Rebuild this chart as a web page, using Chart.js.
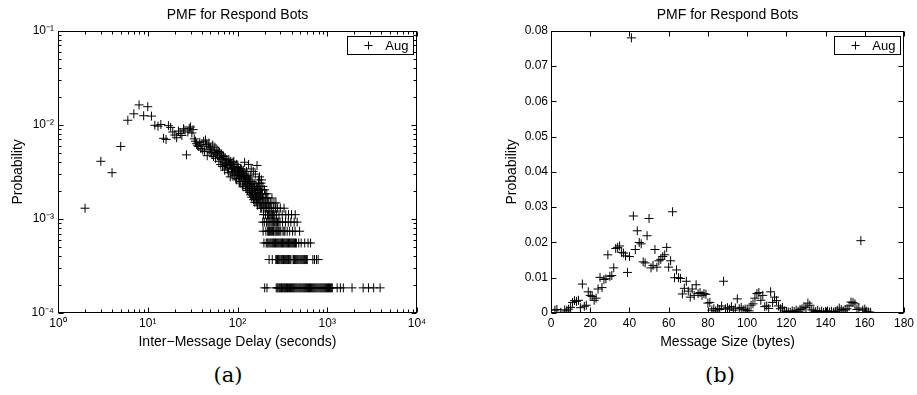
<!DOCTYPE html>
<html>
<head>
<meta charset="utf-8">
<script src="https://cdn.jsdelivr.net/npm/chart.js@4.4.1/dist/chart.umd.min.js"></script>
<style>
  body { margin: 0; background: #fff; width: 917px; height: 395px; overflow: hidden; position: relative; }
  canvas { position: absolute; top: 0; }
  .caption { position: absolute; top: 363px; font-family: "DejaVu Serif", "Liberation Serif", serif; font-size: 21px; transform: translateX(-50%); color: #000; }
</style>
</head>
<body>
<canvas id="delayChart" width="460" height="360" style="left:0"></canvas>
<canvas id="sizeChart" width="457" height="360" style="left:460px"></canvas>
<div class="caption" style="left:228px">(a)</div>
<div class="caption" style="left:720px">(b)</div>
<script>
// ---- (a) inter-message delay PMF, log/log ----
const delayLow = [
  2, 3, 4, 5, 6, 7, 8, 9, 10, 11,
  12, 13, 14, 15, 16, 17, 18, 19, 20, 21,
  22, 23, 24, 25, 26, 27, 28, 29, 30, 31,
  32, 33, 34, 35, 36, 37, 38, 39, 40, 41,
  42, 43, 44, 45, 46, 47, 48, 49, 50, 51,
  52, 53, 54, 55, 56, 57, 58, 59, 60, 61,
  62, 63, 64, 65, 66, 67, 68, 69, 70, 71,
  72, 73, 74, 75, 76, 77, 78, 79, 80, 81,
  82, 83, 84, 85, 86, 87, 88, 89, 90, 91,
  92, 93, 94, 95, 96, 97, 98, 99, 100, 101,
  102, 103, 104, 105, 106, 107, 108, 109, 110, 111,
  112, 113, 114, 115, 116, 117, 118, 119, 120, 121,
  122, 123, 124, 125, 126, 127, 128, 129, 130, 131,
  132, 133, 134, 135, 136, 137, 138, 139, 140, 141,
  142, 143, 144, 145, 146, 147, 148, 149, 150, 151,
  152, 153, 154, 155, 156, 157, 158, 159, 160, 161,
  162, 163, 164, 165, 166, 167, 168, 169
];
const probLow = [
  .0013, .0041, .0031, .0059, .0112, .0131, .0163, .0125, .0156, .0124,
  .0099, .0097, .0101, .0072, .0070, .0098, .0094, .0084, .0078, .0073,
  .0086, .0081, .0077, .0091, .0088, .0048, .0084, .0092, .0095, .0082,
  .0089, .0071, .0067, .0063, .0060, .0059, .0065, .0056, .0061, .0054,
  .0067, .0052, .0069, .0062, .0047, .0059, .0064, .0055, .0057, .0051,
  .0049, .0061, .0046, .0053, .0058, .0044, .0050, .0054, .0047, .0052,
  .0041, .0051, .0045, .0038, .0049, .0043, .0036, .0047, .0046, .0040,
  .0033, .0044, .0037, .0039, .0042, .0034, .0035, .0031, .0043, .0038,
  .0037, .0028, .0041, .0039, .0034, .0030, .0032, .0040, .0036, .0041,
  .0029, .0035, .0033, .0033, .0027, .0026, .0038, .0030, .0031, .0036,
  .0035, .0029, .0027, .0032, .0025, .0024, .0034, .0030, .0034, .0028,
  .0028, .0031, .0023, .0022, .0033, .0029, .0025, .0027, .0040, .0030,
  .0026, .0022, .0028, .0021, .0032, .0027, .0024, .0020, .0023, .0029,
  .0026, .0038, .0021, .0020, .0025, .0019, .0024, .0028, .0018, .0022,
  .0034, .0020, .0017, .0025, .0021, .0018, .0019, .0024, .0032, .0016,
  .0021, .0017, .0020, .0023, .0015, .0019, .0030, .0018, .0020, .0016,
  .0022, .0017, .0015, .0037, .0019, .0014, .0021, .0016
];
const delayHigh = [
  170, 171, 172, 173, 174, 175, 176, 177, 178, 179,
  180, 182, 183, 184, 185, 187, 188, 189, 190, 192,
  196, 198, 200, 204, 206, 208, 212, 214, 218, 223,
  232, 242, 255, 268
];
const probHigh = [
  .00204, .0026, .00167, .0024, .00148, .00185, .0028, .00222, .00148, .00185,
  .00204, .00167, .0024, .00185, .0026, .00204, .00167, .00148, .00185, .00222,
  .00167, .00148, .00204, .00185, .00148, .00167, .00185, .00148, .00167, .00148,
  .00148, .00167, .00148, .00148
];
// quantised rows in the tail (1..7 messages)
const bandProb = [1.85e-4, 3.7e-4, 5.55e-4, 7.4e-4, 9.25e-4, 1.11e-3, 1.3e-3];
const band1Delays = [201, 213,
  270, 277, 283, 290, 296, 303, 309, 316, 323, 330, 336, 344, 352, 361, 371, 380, 389, 399,
  409, 419, 429, 439, 450, 461, 473, 485, 497, 509, 522, 535, 548, 561, 575, 589, 604, 619,
  634, 650, 666, 682, 699, 716, 734, 752, 770, 790, 810, 830, 850, 871, 893, 915, 937, 960,
  984, 1008, 1033, 1059, 1085, 1112, 1139,
  1290, 1400, 1510, 1890, 2510, 2880, 3290, 3880];
const band2Delays = [225, 244,
  267, 273, 279, 285, 291, 298, 306, 312, 319, 326, 333, 341, 349, 356, 363, 370, 377, 386,
  394, 416, 423, 431, 441, 451, 461, 471, 483, 496, 508, 521, 534, 547, 560, 574, 586, 599,
  691, 721, 759, 791];
const band3Delays = [197, 209, 214, 219, 225, 231, 237, 243, 248, 253, 259, 265, 271, 277, 283,
  289, 296, 303, 310, 317, 324, 331, 338, 346, 354, 362, 370, 379, 387, 396, 405, 414, 423,
  433, 443, 453, 481, 512, 561, 611, 652];
const band4Delays = [193, 207, 217, 222, 227, 234, 240, 246, 252, 261, 268, 274, 281, 288, 296,
  304, 321, 330, 338, 358, 381, 411, 438, 492];
const band5Delays = [191, 199, 211, 218, 224, 230, 237, 244, 251, 257, 263, 271, 279, 288, 298,
  318, 342, 368, 393, 428, 462];
const band6Delays = [195, 205, 216, 221, 226, 235, 241, 246, 253, 260, 272, 290, 315, 345, 370, 400, 440];
const band7Delays = [181, 186, 194, 202, 210, 220, 229, 238, 250, 266, 280, 300, 330];

const delayTicks = [1, 10, 100, 1000, 10000];
const delayProbTicks = [1e-4, 1e-3, 1e-2, 1e-1];

// ---- (b) message size PMF, linear ----
const sizeBytes = [
  2, 3, 5, 7, 8, 9, 10, 11, 12, 13, 14, 15, 16, 17, 18, 19, 20, 21, 22, 23,
  24, 25, 26, 27, 28, 29, 30, 31, 32, 33, 34, 35, 36, 37, 38, 39, 40, 41, 42, 43,
  44, 45, 46, 47, 48, 49, 50, 51, 52, 53, 54, 55, 56, 57, 58, 59, 60, 61, 62, 63,
  64, 65, 66, 67, 68, 69, 70, 71, 72, 73, 74, 75, 76, 77, 78, 79, 80, 81, 82, 83,
  84, 85, 86, 87, 88, 89, 90, 91, 92, 93, 94, 95, 96, 97, 98, 99, 100, 101, 102, 103,
  104, 105, 106, 107, 108, 109, 110, 111, 112, 113, 114, 115, 116, 117, 118, 119, 120, 121, 122, 123,
  124, 125, 126, 127, 128, 129, 130, 131, 132, 133, 134, 135, 136, 137, 138, 139, 140, 141, 142, 143,
  144, 145, 146, 147, 148, 149, 150, 151, 152, 153, 154, 155, 156, 157, 158, 159, 160, 161, 162, 163
];
const sizeProb = [
  .0008, .0010, .0002, .0009, .0006, .0011, .0016, .0030, .0035, .0033, .0036, .0015, .0082, .0019, .0022, .0060, .0050, .0047, .0036, .0042,
  .0068, .0101, .0072, .0095, .0097, .0165, .0104, .0106, .0128, .0183, .0186, .0190, .0172, .0170, .0162, .0115, .0160, .0780, .0275, .0180,
  .0233, .0200, .0196, .0145, .0142, .0219, .0268, .0128, .0135, .0180, .0130, .0148, .0152, .0160, .0165, .0186, .0130, .0148, .0287, .0100,
  .0122, .0100, .0098, .0054, .0070, .0090, .0062, .0045, .0068, .0050, .0080, .0055, .0058, .0050, .0055, .0053, .0028, .0030, .0008, .0012,
  .0006, .0013, .0010, .0020, .0090, .0012, .0015, .0011, .0018, .0008, .0014, .0040, .0012, .0016, .0009, .0011, .0007, .0006, .0022, .0026,
  .0042, .0055, .0058, .0036, .0050, .0018, .0020, .0013, .0060, .0030, .0045, .0035, .0020, .0012, .0016, .0006, .0004, .0003, .0002, .0006,
  .0004, .0008, .0005, .0010, .0012, .0017, .0015, .0028, .0022, .0009, .0006, .0004, .0007, .0003, .0005, .0002, .0004, .0006, .0003, .0005,
  .0002, .0004, .0008, .0014, .0010, .0006, .0009, .0012, .0020, .0031, .0030, .0026, .0010, .0014, .0205, .0008, .0011, .0005, .0003, .0002
];
const sizeTicks = [0, 20, 40, 60, 80, 100, 120, 140, 160, 180];
const sizeProbTicks = [0, 0.01, 0.02, 0.03, 0.04, 0.05, 0.06, 0.07, 0.08];

const FONT = '"Liberation Sans", Arial, Helvetica, sans-serif';
Chart.defaults.font.family = FONT;
Chart.defaults.color = '#000';

const SUP = { '-': '\u207B', '0': '\u2070', '1': '\u00B9', '2': '\u00B2', '3': '\u00B3', '4': '\u2074' };
function powLabel(v) {
  const e = String(Math.round(Math.log10(v)));
  return '10' + e.split('').map(c => SUP[c]).join('');
}

// box around the axes with inward tick marks on all four sides (matlab look)
const boxTicks = {
  id: 'boxTicks',
  afterDatasetsDraw(chart) {
    const { ctx, chartArea: a } = chart;
    const { x, y } = chart.scales;
    const L = Math.round(a.left) + 0.5, R = Math.round(a.right) - 0.5;
    const T = Math.round(a.top) + 0.5, B = Math.round(a.bottom) - 0.5;
    ctx.save();
    ctx.strokeStyle = '#000';
    ctx.lineWidth = 1;
    ctx.beginPath();
    const mark = (s, len, v) => {
      const p = Math.round(s.getPixelForValue(v)) + 0.5;
      if (s.isHorizontal()) {
        ctx.moveTo(p, B); ctx.lineTo(p, B - len);
        ctx.moveTo(p, T); ctx.lineTo(p, T + len);
      } else {
        ctx.moveTo(L, p); ctx.lineTo(L + len, p);
        ctx.moveTo(R, p); ctx.lineTo(R - len, p);
      }
    };
    [x, y].forEach(s => {
      s.ticks.forEach(t => mark(s, 5, t.value));
      if (s.type === 'logarithmic') {
        const e0 = Math.round(Math.log10(s.min)), e1 = Math.round(Math.log10(s.max));
        for (let e = e0; e < e1; e++) {
          for (let m = 2; m < 10; m++) mark(s, 3, m * Math.pow(10, e));
        }
      }
    });
    ctx.stroke();
    ctx.strokeRect(L, T, R - L, B - T);
    ctx.restore();
  }
};

// legend box in the top right corner of the axes
const cornerLegend = {
  id: 'cornerLegend',
  afterDraw(chart) {
    const { ctx, chartArea: a } = chart;
    const w = 66, h = 18;
    const x0 = Math.round(a.right) - 4 - w + 0.5, y0 = Math.round(a.top) + 5 + 0.5;
    ctx.save();
    ctx.fillStyle = '#fff';
    ctx.fillRect(x0, y0, w, h);
    ctx.strokeStyle = '#000';
    ctx.lineWidth = 1;
    ctx.strokeRect(x0, y0, w, h);
    Chart.helpers.drawPoint(ctx, { pointStyle: 'cross', radius: 4, borderWidth: 1 }, x0 + 21, y0 + h / 2);
    ctx.fillStyle = '#000';
    ctx.font = '13px ' + FONT;
    ctx.textAlign = 'right';
    ctx.textBaseline = 'middle';
    ctx.fillText(chart.data.datasets[0].label, x0 + w - 5, y0 + h / 2 + 1);
    ctx.restore();
  }
};

function pointsOf(xs, ys) {
  return xs.map((v, i) => ({ x: v, y: ys[i] }));
}

function scatterDataset(points) {
  return {
    label: 'Aug',
    data: points,
    showLine: false,
    pointStyle: 'cross',
    pointRadius: 4.5,
    pointBorderWidth: 1,
    borderColor: '#000',
    backgroundColor: '#000'
  };
}

function baseOptions(xScale, yScale, padRight) {
  return {
    responsive: false,
    animation: false,
    devicePixelRatio: 1,
    events: [],
    layout: { padding: { left: 0, right: padRight, top: 0, bottom: 0 } },
    plugins: {
      legend: { display: false },
      tooltip: { enabled: false },
      title: {
        display: true,
        text: 'PMF for Respond Bots',
        color: '#000',
        fullSize: false,
        font: { size: 14, weight: 'normal' },
        padding: { top: 7, bottom: 7 }
      }
    },
    scales: { x: xScale, y: yScale }
  };
}

const axisCommon = {
  grid: { display: false, drawTicks: false },
  border: { display: false }
};

// chart (a)
const delayPoints = pointsOf(delayLow, probLow)
  .concat(pointsOf(delayHigh, probHigh))
  .concat(band1Delays.map(d => ({ x: d, y: bandProb[0] })))
  .concat(band2Delays.map(d => ({ x: d, y: bandProb[1] })))
  .concat(band3Delays.map(d => ({ x: d, y: bandProb[2] })))
  .concat(band4Delays.map(d => ({ x: d, y: bandProb[3] })))
  .concat(band5Delays.map(d => ({ x: d, y: bandProb[4] })))
  .concat(band6Delays.map(d => ({ x: d, y: bandProb[5] })))
  .concat(band7Delays.map(d => ({ x: d, y: bandProb[6] })));

new Chart(document.getElementById('delayChart'), {
  type: 'scatter',
  data: { datasets: [scatterDataset(delayPoints)] },
  options: baseOptions(
    {
      ...axisCommon,
      type: 'logarithmic', min: 1, max: 10000,
      afterBuildTicks: s => { s.ticks = delayTicks.map(v => ({ value: v })); },
      afterFit: s => { s.height = 47; },
      ticks: { autoSkip: false, maxRotation: 0, padding: 3, font: { size: 12 }, callback: v => powLabel(v) },
      title: { display: true, text: 'Inter\u2212Message Delay (seconds)', font: { size: 14 }, padding: { top: 0, bottom: 9 } }
    },
    {
      ...axisCommon,
      type: 'logarithmic', min: 1e-4, max: 1e-1,
      afterBuildTicks: s => { s.ticks = delayProbTicks.map(v => ({ value: v })); },
      afterFit: s => { s.width = 58; },
      ticks: { autoSkip: false, padding: 4, font: { size: 12 }, callback: v => powLabel(v) },
      title: { display: true, text: 'Probability', font: { size: 14 }, padding: { top: 10, bottom: 0 } }
    },
    43
  ),
  plugins: [boxTicks, cornerLegend]
});

// chart (b)
new Chart(document.getElementById('sizeChart'), {
  type: 'scatter',
  data: { datasets: [scatterDataset(pointsOf(sizeBytes, sizeProb))] },
  options: baseOptions(
    {
      ...axisCommon,
      type: 'linear', min: 0, max: 180,
      afterBuildTicks: s => { s.ticks = sizeTicks.map(v => ({ value: v })); },
      afterFit: s => { s.height = 47; },
      ticks: { autoSkip: false, maxRotation: 0, padding: 3, font: { size: 12 }, callback: v => String(v) },
      title: { display: true, text: 'Message Size (bytes)', font: { size: 14 }, padding: { top: 0, bottom: 9 } }
    },
    {
      ...axisCommon,
      type: 'linear', min: 0, max: 0.08,
      afterBuildTicks: s => { s.ticks = sizeProbTicks.map(v => ({ value: v })); },
      afterFit: s => { s.width = 91; },
      ticks: { autoSkip: false, padding: 3, font: { size: 12 }, callback: v => String(+v.toFixed(2)) },
      title: { display: true, text: 'Probability', font: { size: 14 }, padding: { top: 44, bottom: 0 } }
    },
    10
  ),
  plugins: [boxTicks, cornerLegend]
});
</script>
</body>
</html>
